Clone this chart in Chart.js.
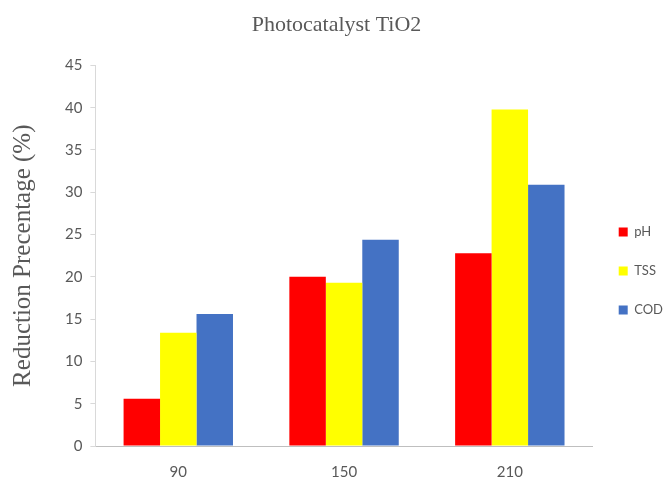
<!DOCTYPE html>
<html>
<head>
<meta charset="utf-8">
<script src="https://cdn.jsdelivr.net/npm/chart.js@4"></script>
<style>
  html, body { margin: 0; padding: 0; background: #ffffff; }
  #wrap { width: 667px; height: 484px; position: relative; }
</style>
</head>
<body>
<div id="wrap"><canvas id="c" width="667" height="484"></canvas></div>
<script>
const categories = ['90', '150', '210'];
const seriesNames = ['pH', 'TSS', 'COD'];
const phValues = [5.6, 20.0, 22.8];
const tssValues = [13.4, 19.3, 39.8];
const codValues = [15.6, 24.4, 30.9];
const chartTitle = 'Photocatalyst TiO2';
const yAxisTitle = 'Reduction Precentage (%)';
const yMin = 0, yMax = 45, yStep = 5;

const colors = ['#FF0000', '#FFFF00', '#4472C4'];
const valuesList = [phValues, tssValues, codValues];

new Chart(document.getElementById('c'), {
  type: 'bar',
  data: {
    labels: categories,
    datasets: seriesNames.map((name, i) => ({
      label: name,
      data: valuesList[i],
      backgroundColor: colors[i],
      borderWidth: 0,
      barPercentage: 1.0,
      categoryPercentage: 0.66
    }))
  },
  options: {
    responsive: false,
    animation: false,
    devicePixelRatio: 1,
    layout: { padding: { left: 0, right: -6, top: 0, bottom: -14 } },
    plugins: {
      title: {
        display: true,
        text: chartTitle,
        color: '#595959',
        font: { family: 'Liberation Serif', size: 22, weight: 'normal' },
        padding: { top: 12, bottom: 27 }
      },
      legend: {
        position: 'right',
        align: 'center',
        title: {
          display: true,
          text: ' ',
          font: { size: 10 },
          padding: { top: 0, bottom: 32 }
        },
        labels: {
          boxWidth: 9,
          boxHeight: 9,
          padding: 26,
          color: '#595959',
          font: { family: 'Lato', size: 13 }
        }
      },
      tooltip: { enabled: false }
    },
    scales: {
      x: {
        grid: { display: false, drawTicks: false },
        border: { display: true, color: '#bfbfbf', width: 1 },
        ticks: { color: '#595959', font: { family: 'Lato', size: 15 }, padding: 17 }
      },
      y: {
        min: yMin,
        max: yMax,
        ticks: { stepSize: yStep, color: '#595959', font: { family: 'Lato', size: 15 }, padding: 8 },
        grid: { display: true, drawOnChartArea: false, drawTicks: true, tickLength: 5, color: '#d9d9d9' },
        border: { display: true, color: '#d9d9d9', width: 1 },
        title: {
          display: true,
          text: yAxisTitle,
          color: '#595959',
          font: { family: 'Liberation Serif', size: 25, weight: 'normal' },
          padding: { top: 8, bottom: 19 }
        }
      }
    }
  }
});
</script>
</body>
</html>
